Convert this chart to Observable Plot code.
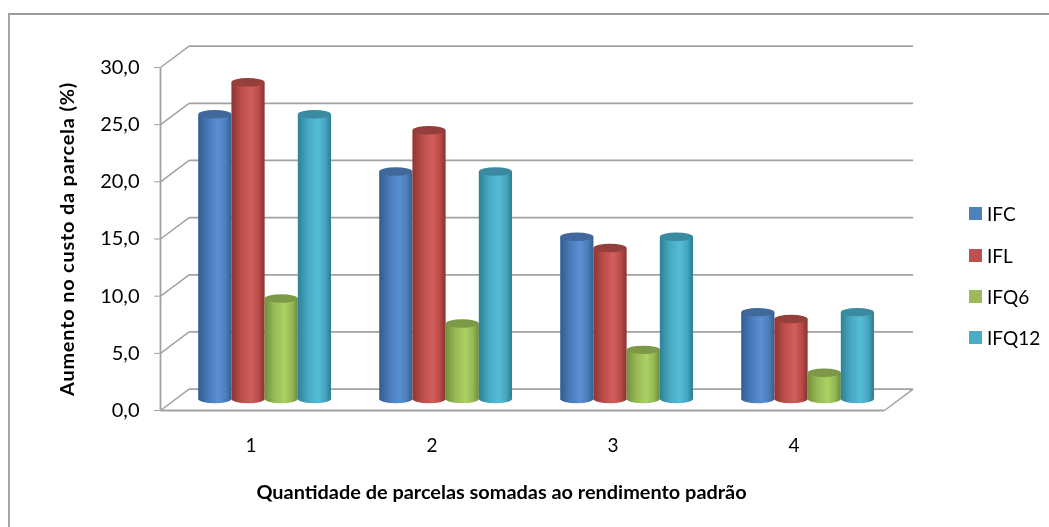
<!DOCTYPE html>
<html><head><meta charset="utf-8">
<script src="https://cdn.jsdelivr.net/npm/d3@7"></script>
<script src="https://cdn.jsdelivr.net/npm/@observablehq/plot@0.6"></script>
<style>
html,body{margin:0;padding:0;background:#fff;}
#wrap{position:relative;width:1049px;height:527px;overflow:hidden;font-family:Lato,sans-serif;}
#border{position:absolute;left:8px;top:13px;right:0;bottom:0;border-top:2px solid #9c9c9c;border-left:2px solid #a4a4a4;}
#legend{position:absolute;left:969px;top:0;color:#000;font-size:19px;filter:blur(0.3px);}
.row{position:absolute;left:0;white-space:nowrap;height:14px;line-height:14px;}
.sw{position:absolute;left:0;top:0;width:13px;height:13px;}
.lb{position:absolute;left:18px;top:0;}
svg{position:absolute;left:0;top:0;}
</style></head><body><div id="wrap"><div id="border"></div><div id="legend"></div></div>
<script>
const categories = [1, 2, 3, 4];
const seriesNames = ["IFC", "IFL", "IFQ6", "IFQ12"];
const IFC   = [24.9, 19.9, 14.2, 7.6];
const IFL   = [27.7, 23.5, 13.2, 7.0];
const IFQ6  = [8.8, 6.6, 4.3, 2.3];
const IFQ12 = [24.9, 19.9, 14.2, 7.6];
const seriesValues = [IFC, IFL, IFQ6, IFQ12];
const yTicks = [0, 5, 10, 15, 20, 25, 30];
const swatch = ["#4f81bd", "#c0504d", "#9bbb59", "#4bacc6"];
const ramps = [
  ["#2f5d92", "#4a7ab8", "#5b8fd3", "#4d7fbe", "#345f90"],
  ["#8f3432", "#bb4d4a", "#d25e5a", "#b94b48", "#8a3230"],
  ["#71903c", "#98ba56", "#abd063", "#97b955", "#6e8c3a"],
  ["#2d8198", "#48a8c2", "#55bdd6", "#46a6c0", "#2b7d93"]
];
const topFill = ["#41689a", "#963e3b", "#7d9947", "#3a8aa0"];

// depth of the 3-D box, and of the bars inside it, in data units
const depthX = 0.158, depthY = 1.87;
const barDepthX = 0.078, barDepthY = 0.96;
const barW = 33.2 / 181, capH = 0.37;
const x0 = 0.5, x1 = 4.5;

const gridColor = "#a2a2a2";
const backLevels = yTicks.map(v => ({v}));
const marks = [];

marks.push(() => {
  const ns = "http://www.w3.org/2000/svg";
  const defs = document.createElementNS(ns, "defs");
  ramps.forEach((r, i) => {
    const g = document.createElementNS(ns, "linearGradient");
    g.setAttribute("id", "g" + i);
    r.forEach((c, j) => {
      const s = document.createElementNS(ns, "stop");
      s.setAttribute("offset", [0, 0.3, 0.6, 0.82, 1][j]);
      s.setAttribute("stop-color", c);
      g.appendChild(s);
    });
    defs.appendChild(g);
  });
  return defs;
});

// back wall lines
marks.push(Plot.link(backLevels, {x1: x0 + depthX, x2: x1 + depthX, y1: d => d.v + depthY, y2: d => d.v + depthY, stroke: gridColor, strokeWidth: 1.8}));
// side wall slants
marks.push(Plot.link(backLevels, {x1: x0, x2: x0 + depthX, y1: d => d.v, y2: d => d.v + depthY, stroke: gridColor, strokeWidth: 1.5}));
// floor front and right edge
marks.push(Plot.link([0], {x1: x0, x2: x1, y1: 0, y2: 0, stroke: gridColor, strokeWidth: 1.8}));
marks.push(Plot.link([0], {x1: x1, x2: x1 + depthX, y1: 0, y2: depthY, stroke: gridColor, strokeWidth: 1.5}));
// y axis line
marks.push(Plot.link([0], {x1: x0, x2: x0, y1: 0, y2: 30, stroke: gridColor, strokeWidth: 1.8}));

// cylinders
seriesNames.forEach((name, i) => {
  const rows = categories.map((c, k) => ({c, v: seriesValues[i][k]}));
  const left = d => d.c + barDepthX + (i - 2) * barW;
  const right = d => left(d) + barW;
  const common = {x1: left, x2: right, rx: 100, ry: 100};
  marks.push(Plot.rect(rows, {...common, y1: barDepthY - capH, y2: barDepthY + capH, fill: `url(#g${i})`}));
  marks.push(Plot.rect(rows, {x1: left, x2: right, y1: barDepthY, y2: d => d.v + barDepthY, fill: `url(#g${i})`}));
  marks.push(Plot.rect(rows, {...common, y1: d => d.v + barDepthY - capH, y2: d => d.v + barDepthY + capH, fill: topFill[i]}));
});

marks.push(Plot.axisY({ticks: yTicks, tickFormat: d => d.toFixed(1).replace(".", ","), tickSize: 6, tickPadding: 15, stroke: gridColor, color: "#000", label: null, fontSize: 20, fontFamily: "Lato"}));
marks.push(Plot.axisX({ticks: categories, tickFormat: d => String(d), tickSize: 0, tickPadding: 28, label: null, fontSize: 19, fontFamily: "Lato", color:"#000"}));

const yTitle = "Aumento no custo da parcela (%)";
marks.push(Plot.text([yTitle], {frameAnchor: "left", rotate: -90, textAnchor: "middle", dx: -93, text: d => d, fontWeight: "bold", fontSize: 19.9, fontFamily: "Lato", fill: "#000"}));
marks.push(Plot.text(["Quantidade de parcelas somadas ao rendimento padrão"], {frameAnchor: "bottom", dx: -21, dy: 88, text: d => d, fontWeight: "bold", fontSize: 19.9, fontFamily: "Lato", fill: "#000"}));

const chart = Plot.plot({
  width: 1049, height: 527,
  marginTop: 67, marginBottom: 117, marginLeft: 160, marginRight: 165,
  style: {background: "transparent", overflow: "visible", filter: "blur(0.35px)"},
  x: {type: "linear", domain: [x0, x1]},
  y: {type: "linear", domain: [0, 30]},
  marks
});
chart.querySelectorAll("text").forEach(t => { if (t.textContent === yTitle) t.style.letterSpacing = "0.8px"; });
document.getElementById("wrap").appendChild(chart);

const legend = document.getElementById("legend");
const legendTop = [207, 249, 290, 331];
seriesNames.forEach((n, i) => {
  const r = document.createElement("div");
  r.className = "row";
  r.style.top = legendTop[i] + "px";
  r.innerHTML = `<span class="sw" style="background:${swatch[i]}"></span><span class="lb">${n}</span>`;
  legend.appendChild(r);
});
</script></body></html>
